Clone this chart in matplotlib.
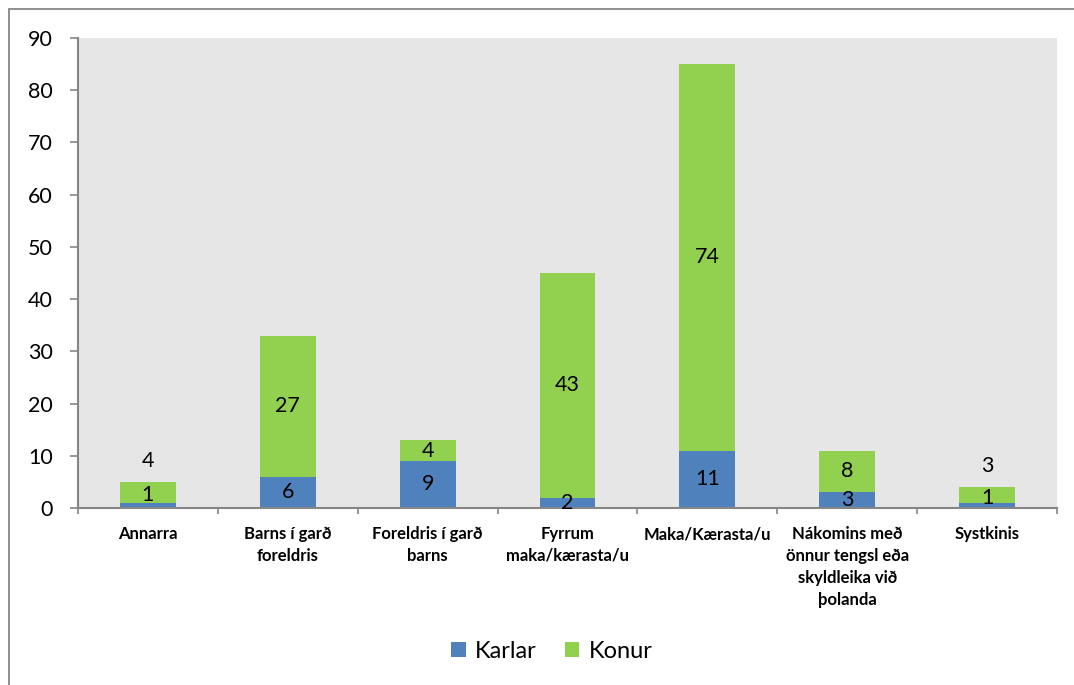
import numpy as np
import matplotlib
matplotlib.use("Agg")
import matplotlib.pyplot as plt
from matplotlib.patches import Rectangle

categories = ["Annarra", "Barns í garð\nforeldris", "Foreldris í garð\nbarns",
              "Fyrrum\nmaka/kærasta/u", "Maka/Kærasta/u",
              "Nákomins með\nönnur tengsl eða\nskyldleika við\nþolanda", "Systkinis"]
karlar = [1, 6, 9, 2, 11, 3, 1]
konur = [4, 27, 4, 43, 74, 8, 3]
yticks = [0, 10, 20, 30, 40, 50, 60, 70, 80, 90]

BLUE = "#4f81bd"
GREEN = "#92d050"
GRID = "#868686"

plt.rcParams["font.family"] = ["Lato", "DejaVu Sans"]

W, H = 1074, 685
fig = plt.figure(figsize=(W / 100, H / 100), dpi=100)
ax = fig.add_axes([78 / W, 1 - 508 / H, (1057 - 78) / W, (508 - 38) / H])
ax.set_facecolor("#e6e6e6")

x = np.arange(len(categories))
karlar = np.array(karlar)
konur = np.array(konur)
ax.bar(x, karlar, width=0.4, color=BLUE, label="Karlar", zorder=2)
ax.bar(x, konur, width=0.4, bottom=karlar, color=GREEN, label="Konur", zorder=2)

# data labels: small bars get the Konur label above the bar
for i in range(len(x)):
    total = karlar[i] + konur[i]
    if total < 6:
        yk = total / 2
        yw = total + 4
    else:
        yk = karlar[i] / 2
        yw = karlar[i] + konur[i] / 2
    ax.text(x[i], yk, str(karlar[i]), ha="center", va="center", fontsize=15.5, zorder=3)
    ax.text(x[i], yw, str(konur[i]), ha="center", va="center", fontsize=15.5, zorder=3)

ax.set_xlim(-0.5, len(categories) - 0.5)
ax.set_ylim(0, 90)
ax.set_yticks(yticks)
ax.tick_params(axis="y", labelsize=15.5, length=6, width=1.2, color=GRID, pad=12)
ax.set_xticks(x)
ax.set_xticklabels(categories, fontsize=12, fontweight="bold", va="top", linespacing=1.45)
ax.tick_params(axis="x", length=0, pad=13)
ax.set_xticks(np.arange(len(categories) + 1) - 0.5, minor=True)
ax.tick_params(axis="x", which="minor", length=4, width=1.2, color=GRID)

for s in ["top", "right"]:
    ax.spines[s].set_visible(False)
for s in ["left", "bottom"]:
    ax.spines[s].set_color(GRID)
    ax.spines[s].set_linewidth(1.5)

fig.legend(loc="center", bbox_to_anchor=(552 / W, 1 - 651 / H), ncol=2,
           frameon=False, fontsize=17, handlelength=0.6, handleheight=0.6,
           handletextpad=0.4, columnspacing=1.2)

# outer chart border, right and bottom edges fall outside the picture
fig.patches.append(Rectangle((9 / W, -0.05), 1.1, 1 - 9 / H + 0.05,
                             transform=fig.transFigure, fill=False,
                             edgecolor=GRID, linewidth=1.3))

fig.savefig("out.png", dpi=100)
